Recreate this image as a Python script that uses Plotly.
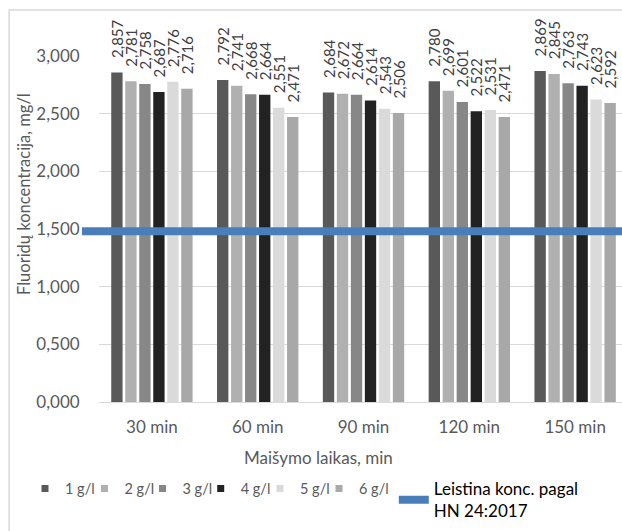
import plotly.graph_objects as go

# Mixing time categories
categories = ["30 min", "60 min", "90 min", "120 min", "150 min"]

# Fluoride concentration (mg/l) per coagulant dose
dose_1 = [2.857, 2.792, 2.684, 2.780, 2.869]
dose_2 = [2.781, 2.741, 2.672, 2.699, 2.845]
dose_3 = [2.758, 2.668, 2.664, 2.601, 2.763]
dose_4 = [2.687, 2.664, 2.614, 2.522, 2.743]
dose_5 = [2.776, 2.551, 2.543, 2.531, 2.623]
dose_6 = [2.716, 2.471, 2.506, 2.471, 2.592]

series_names = ["1 g/l", "2 g/l", "3 g/l", "4 g/l", "5 g/l", "6 g/l"]
series_values = [dose_1, dose_2, dose_3, dose_4, dose_5, dose_6]
series_colors = ["#595959", "#b0b0b0", "#878787", "#222222", "#dadada", "#a8a8a8"]

# Permitted limit line
limit_name = "Leistina konc. pagal<br>HN 24:2017"
limit_x = [0, 1]
limit_y = [1.48, 1.48]

x_title = "Maišymo laikas, min"
y_title = "Fluoridų koncentracija, mg/l"

FONT = "Lato"
GRAY = "#595959"
NBSP = "\u00a0"

W, H = 622, 531
M_L, M_R, M_T, M_B = 82, 0, 56, 129
PAPER_W = W - M_L - M_R
PAPER_H = H - M_T - M_B


def px_x(px):
    return (px - M_L) / PAPER_W


def px_y(py):
    return (H - M_B - py) / PAPER_H


# legend swatch centres (px) for the six dose entries
legend_px = [45, 104.5, 162.5, 220.7, 280, 339]

fig = go.Figure()

legend_ids = ["legend", "legend2", "legend3", "legend4", "legend5", "legend6"]

for name, vals, col, lid in zip(series_names, series_values, series_colors, legend_ids):
    fig.add_trace(go.Bar(
        x=categories, y=vals, name=name,
        marker=dict(color=col, line=dict(width=0)),
        # leading non-breaking spaces lift the rotated label off the bar top
        texttemplate=NBSP * 3 + "%{y:.3f}", textposition="outside", textangle=-90,
        constraintext="none", cliponaxis=False,
        textfont=dict(family=FONT, size=15, color="#404040"),
        showlegend=False,
    ))
    # small square legend swatch for the series
    fig.add_trace(go.Scatter(
        x=[None], y=[None], name=name, mode="markers",
        marker=dict(symbol="square", size=7, color=col),
        legend=lid, showlegend=True,
    ))

fig.add_trace(go.Scatter(
    x=limit_x, y=limit_y, name=limit_name, mode="lines",
    line=dict(color="#4a7ebb", width=8),
    xaxis="x2", yaxis="y2", legend="legend7", cliponaxis=False,
))

legend_y = -0.2
legends = {}
for lid, c in zip(legend_ids, legend_px):
    legends[lid] = dict(
        orientation="h", x=px_x(c - 20), y=legend_y - 0.004,
        xanchor="left", yanchor="top",
        font=dict(size=14.5, color=GRAY), itemwidth=30,
        bgcolor="rgba(0,0,0,0)",
    )
legends["legend7"] = dict(
    orientation="h", x=0.5774, y=legend_y, xanchor="left", yanchor="top",
    font=dict(size=17, color="#000000"), itemwidth=30,
    bgcolor="rgba(0,0,0,0)",
)

fig.update_layout(
    width=W, height=H,
    margin=dict(l=M_L, r=M_R, t=M_T, b=M_B),
    paper_bgcolor="white", plot_bgcolor="rgba(0,0,0,0)",
    separators=", ",
    font=dict(family=FONT, size=17, color=GRAY),
    uniformtext=dict(minsize=15, mode="show"),
    barmode="group", bargap=0.206, bargroupgap=0.19,
    xaxis=dict(
        domain=[0.0315, 1], range=[-0.5, 4.443],
        showgrid=False, showline=True, linecolor="#d9d9d9", linewidth=1,
        ticks="outside", ticklen=10, tickcolor="rgba(0,0,0,0)",
        tickfont=dict(size=17, color=GRAY),
        zeroline=False,
    ),
    yaxis=dict(
        range=[0, 3], tickvals=[0, 0.5, 1, 1.5, 2, 2.5, 3], tickformat=".3f",
        showgrid=True, gridcolor="#d9d9d9", gridwidth=1,
        zeroline=False, showline=False,
        ticks="outside", ticklen=15, tickcolor="rgba(0,0,0,0)",
        tickfont=dict(size=17, color=GRAY),
    ),
    xaxis2=dict(domain=[0, 1], range=[0, 1], visible=False, anchor="y2"),
    yaxis2=dict(domain=[0, 1], range=[0, 3], visible=False, anchor="x2"),
    showlegend=True,
    **legends,
)

# Axis titles
fig.add_annotation(text=x_title, xref="paper", yref="paper",
                   x=px_x(318), y=px_y(457), showarrow=False,
                   xanchor="center", yanchor="middle",
                   font=dict(size=17, color=GRAY))
fig.add_annotation(text=y_title, xref="paper", yref="paper",
                   x=px_x(24), y=px_y(194), showarrow=False, textangle=-90,
                   xanchor="center", yanchor="middle",
                   font=dict(size=16.5, color=GRAY))

# Chart frame
fig.add_shape(type="rect", xref="paper", yref="paper",
              x0=-0.135, x1=1.2, y0=-0.6, y1=1.133,
              line=dict(color="#d9d9d9", width=1.5), layer="below")

fig.write_html("out.html")
